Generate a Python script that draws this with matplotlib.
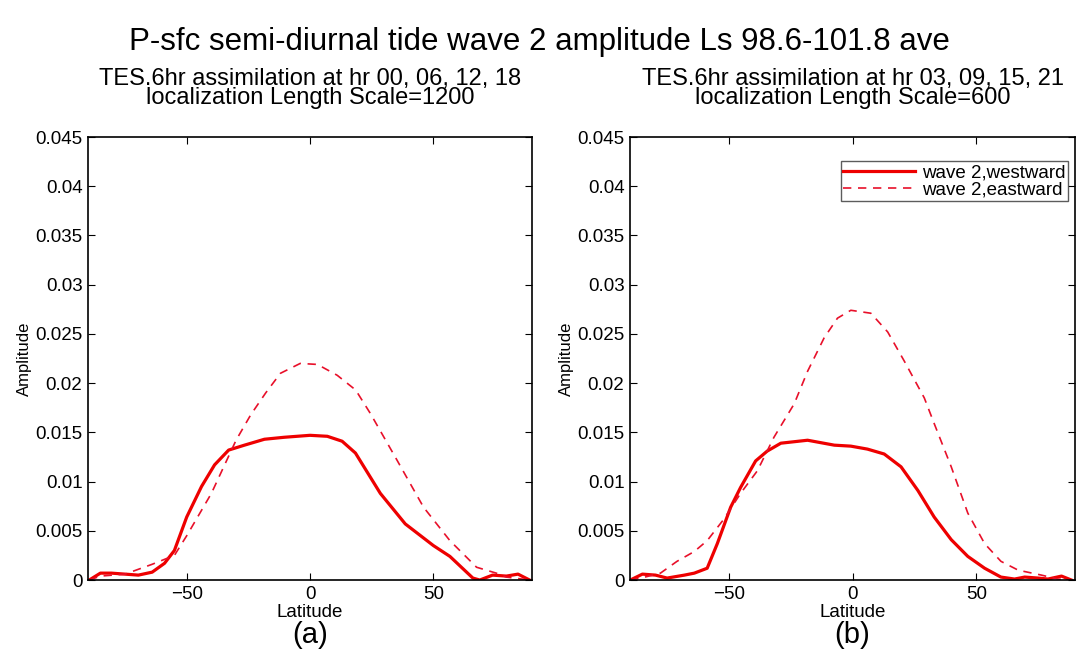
import numpy as np
import matplotlib
matplotlib.use('Agg')
import matplotlib.pyplot as plt
from matplotlib.ticker import FormatStrFormatter

# panel (a): localization 1200
lat_a_west = [-89.5, -85, -80.5, -69.6, -64, -59, -55, -50, -44, -38.7, -33, -26.6, -18.5,
              -10.5, 0, 7, 13, 18.4, 28.5, 38.6, 50, 56.7, 66, 68.8, 74, 79.6, 84.3, 89]
amp_a_west = [0, 0.0007, 0.0007, 0.0005, 0.0008, 0.0017, 0.003, 0.0064, 0.0095, 0.0117, 0.0132,
              0.0137, 0.0143, 0.0145, 0.0147, 0.0146, 0.0141, 0.0129, 0.0088, 0.0057, 0.0035,
              0.0024, 0.0002, 0, 0.0005, 0.0004, 0.0006, 0]
lat_a_east = [-89.5, -85, -75, -64, -55, -50, -40, -30, -24, -18, -12, -4, 3, 11, 18.5, 24.5,
              35.2, 46, 56.7, 67.5, 75.5, 79.6, 89]
amp_a_east = [0, 0.0004, 0.0006, 0.0016, 0.0025, 0.0045, 0.0088, 0.0142, 0.0168, 0.019, 0.021,
              0.022, 0.0219, 0.0208, 0.0193, 0.0169, 0.0122, 0.0074, 0.004, 0.0013, 0.0007,
              0.0003, 0]

# panel (b): localization 600
lat_b_west = [-89.9, -85, -79.7, -75, -68, -64, -58.8, -54.7, -49.3, -45.3, -39.2, -34.5, -29,
              -18.2, -7.4, -0.7, 6, 12.8, 19.6, 26.4, 33, 39.9, 46.6, 53.4, 60, 65.5, 69.6, 75,
              79, 84.5, 88.5]
amp_b_west = [0, 0.0006, 0.0005, 0.0002, 0.0005, 0.0007, 0.0012, 0.0037, 0.0074, 0.0094, 0.0121,
              0.0131, 0.0139, 0.0142, 0.0137, 0.0136, 0.0133, 0.0128, 0.0115, 0.0091, 0.0064,
              0.0041, 0.0024, 0.0012, 0.0003, 0.0001, 0.0003, 0.0002, 0.0001, 0.0004, 0]
lat_b_east = [-89.9, -84, -77.7, -71, -64, -58.8, -52, -45.3, -38.5, -31.8, -23.6, -18.2, -11.5,
              -6.1, -0.7, 7.4, 14.2, 21, 29, 33, 39.9, 46.6, 53.4, 60, 67, 76.4, 83, 89]
amp_b_east = [0, 0.0003, 0.0007, 0.0019, 0.0029, 0.004, 0.0062, 0.0088, 0.0111, 0.0145, 0.0179,
              0.0212, 0.0246, 0.0266, 0.0274, 0.0271, 0.0252, 0.0222, 0.0185, 0.0159, 0.0115,
              0.0068, 0.0037, 0.0019, 0.001, 0.0005, 0.0001, 0]

titles = ['TES.6hr assimilation at hr 00, 06, 12, 18\nlocalization Length Scale=1200',
          'TES.6hr assimilation at hr 03, 09, 15, 21\nlocalization Length Scale=600']
labels = ['(a)', '(b)']

plt.rcParams['font.family'] = ['Liberation Sans', 'DejaVu Sans']

fig = plt.figure(figsize=(10.79, 6.54), dpi=100)
fig.text(0.5, 0.936, 'P-sfc semi-diurnal tide wave 2 amplitude Ls 98.6-101.8 ave',
         ha='center', va='center', fontsize=22.5)

boxes = [[0.0816, 0.1131, 0.4115, 0.6774], [0.5839, 0.1131, 0.4125, 0.6774]]
data = [(lat_a_west, amp_a_west, lat_a_east, amp_a_east),
        (lat_b_west, amp_b_west, lat_b_east, amp_b_east)]

for i in range(2):
    ax = fig.add_axes(boxes[i])
    lw, aw, le, ae = data[i]
    ax.plot(lw, aw, color='#ee0000', lw=2.3, label='wave 2,westward')
    ax.plot(le, ae, color='#e8102a', lw=1.2, ls=(0, (5, 4)), label='wave 2,eastward')
    ax.set_xlim(-90, 90)
    ax.set_ylim(0, 0.045)
    ax.set_xticks([-50, 0, 50])
    ax.set_yticks(np.arange(0, 0.0451, 0.005))
    ax.yaxis.set_major_formatter(FormatStrFormatter('%g'))
    ax.tick_params(direction='in', top=True, right=True, labelsize=13.5, length=5, pad=4)
    for s in ax.spines.values():
        s.set_linewidth(1.2)
    ax.set_title(titles[i], fontsize=17, linespacing=0.82, pad=24)
    ax.set_xlabel('Latitude', fontsize=13.5, labelpad=1)
    ax.set_ylabel('Amplitude', fontsize=12, labelpad=2)
    ax.text(0.5, -0.125, labels[i], transform=ax.transAxes, ha='center', va='center',
            fontsize=21)
    if i == 1:
        ax.legend(loc='upper right', fontsize=13.5, frameon=True, fancybox=False,
                  edgecolor='#333333', handlelength=3.8, handletextpad=0.4, borderpad=0.15,
                  labelspacing=0.0, borderaxespad=0, bbox_to_anchor=(0.985, 0.945))

fig.savefig('out.png', dpi=100)
